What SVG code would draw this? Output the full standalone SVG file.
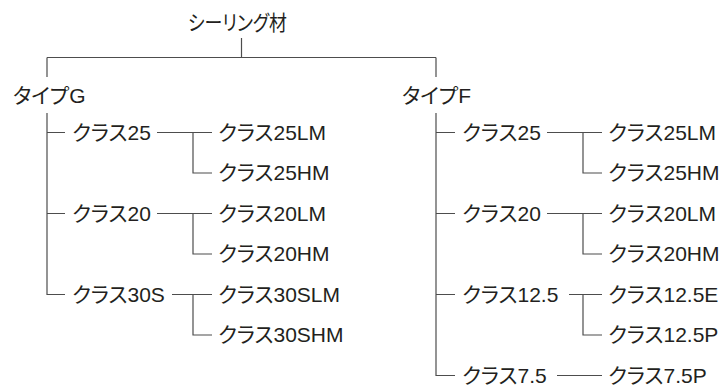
<svg xmlns="http://www.w3.org/2000/svg" width="724" height="385" viewBox="0 0 724 385">
<style>
text{font-family:"Liberation Sans","Noto Sans CJK JP",sans-serif;font-size:21px;fill:#231f20;font-feature-settings:"palt";}
.c{fill:none;stroke:#4d4d4d;stroke-width:1.2;}
</style>
<rect width="724" height="385" fill="#fff"/>
<g id="connectors" class="c">
<path d="M241.5 38V57.5M47 57.5H436M47 57.5V77M436 57.5V77"/>
<path d="M47 113V294.5H65M47 132.5H65M47 213.5H65"/>
<path d="M157 132.5H212M193 132.5V173H212"/>
<path d="M157 213.5H212M193 213.5V254H212"/>
<path d="M172 294.5H212M193 294.5V335H212"/>
<path d="M436 113V375.5H455M436 132.5H455M436 213.5H455M436 294.5H455"/>
<path d="M547 132.5H602M583 132.5V173H602"/>
<path d="M547 213.5H602M583 213.5V254H602"/>
<path d="M569 294.5H602M583 294.5V335H602"/>
<path d="M557 375.5H602"/>
</g>
<g id="root"><text x="188" y="30" textLength="99" lengthAdjust="spacingAndGlyphs">シーリング材</text></g>
<g id="typeG"><text x="13" y="103">タイプG</text></g>
<g id="typeF"><text x="402" y="103">タイプF</text></g>
<g id="g25"><text x="72" y="139.5">クラス25</text></g>
<g id="g25lm"><text x="218" y="139.5">クラス25LM</text></g>
<g id="g25hm"><text x="218" y="180">クラス25HM</text></g>
<g id="g20"><text x="72" y="220.5">クラス20</text></g>
<g id="g20lm"><text x="218" y="220.5">クラス20LM</text></g>
<g id="g20hm"><text x="218" y="261">クラス20HM</text></g>
<g id="g30s"><text x="72" y="301.5">クラス30S</text></g>
<g id="g30slm"><text x="218" y="301.5">クラス30SLM</text></g>
<g id="g30shm"><text x="218" y="342">クラス30SHM</text></g>
<g id="f25"><text x="462" y="139.5">クラス25</text></g>
<g id="f25lm"><text x="608" y="139.5">クラス25LM</text></g>
<g id="f25hm"><text x="608" y="180">クラス25HM</text></g>
<g id="f20"><text x="462" y="220.5">クラス20</text></g>
<g id="f20lm"><text x="608" y="220.5">クラス20LM</text></g>
<g id="f20hm"><text x="608" y="261">クラス20HM</text></g>
<g id="f125"><text x="462" y="301.5">クラス12.5</text></g>
<g id="f125e"><text x="608" y="301.5">クラス12.5E</text></g>
<g id="f125p"><text x="608" y="342">クラス12.5P</text></g>
<g id="f75"><text x="462" y="382.5">クラス7.5</text></g>
<g id="f75p"><text x="608" y="382.5">クラス7.5P</text></g>
</svg>
